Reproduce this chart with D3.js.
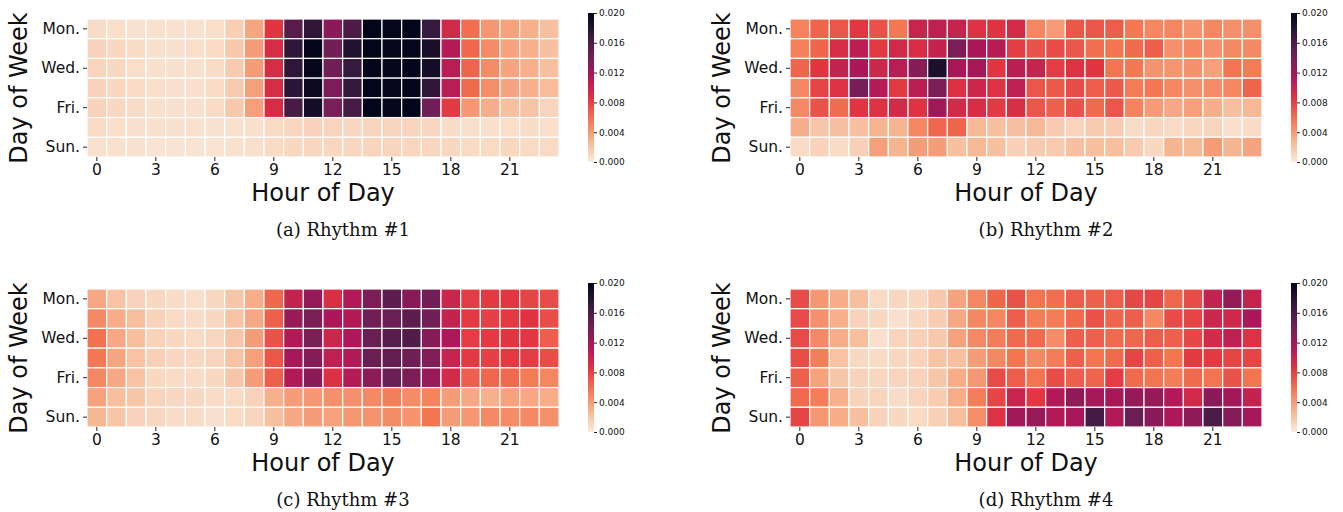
<!DOCTYPE html>
<meta charset="utf-8">
<style>
    body { margin: 0; background: #fff; }
    svg { display: block; }
    .tick text { font-family: "DejaVu Sans", sans-serif; fill: #111; }
    .axis path.domain { display: none; }
    .axis line { stroke: #222; }
</style>
<body>
<script src="https://d3js.org/d3.v7.min.js"></script>
<script>
    const days = ["Mon.", "Tue.", "Wed.", "Thu.", "Fri.", "Sat.", "Sun."];
    const dayTicks = ["Mon.", "Wed.", "Fri.", "Sun."];
    const hours = d3.range(24);
    const hourTicks = [0, 3, 6, 9, 12, 15, 18, 21];
    const cbTicks = [0, 0.004, 0.008, 0.012, 0.016, 0.020];
    const captions = ["(a) Rhythm #1", "(b) Rhythm #2", "(c) Rhythm #3", "(d) Rhythm #4"];

    // rows Mon..Sun, columns hour 0..23
    const rhythm1 = [
        [.0008,.0007,.0005,.0005,.0005,.0005,.0007,.0015,.0035,.0085,.0155,.0175,.0130,.0160,.0200,.0198,.0200,.0170,.0095,.0060,.0042,.0037,.0030,.0022],
        [.0013,.0011,.0008,.0006,.0006,.0007,.0009,.0018,.0040,.0092,.0175,.0199,.0143,.0183,.0200,.0198,.0198,.0187,.0110,.0063,.0047,.0036,.0030,.0022],
        [.0012,.0010,.0007,.0006,.0006,.0006,.0008,.0017,.0040,.0092,.0175,.0198,.0143,.0171,.0199,.0198,.0199,.0190,.0108,.0065,.0047,.0036,.0030,.0022],
        [.0013,.0011,.0009,.0007,.0006,.0006,.0009,.0017,.0038,.0092,.0177,.0195,.0137,.0172,.0200,.0198,.0199,.0175,.0108,.0062,.0046,.0036,.0030,.0024],
        [.0013,.0010,.0008,.0006,.0006,.0006,.0009,.0018,.0038,.0092,.0162,.0190,.0138,.0162,.0200,.0198,.0200,.0143,.0083,.0042,.0031,.0022,.0020,.0012],
        [.0009,.0007,.0006,.0006,.0006,.0005,.0005,.0005,.0006,.0009,.0011,.0013,.0012,.0011,.0012,.0012,.0012,.0011,.0008,.0007,.0006,.0007,.0008,.0007],
        [.0005,.0005,.0005,.0004,.0004,.0004,.0004,.0005,.0006,.0009,.0010,.0011,.0011,.0011,.0012,.0012,.0011,.0011,.0010,.0009,.0009,.0010,.0009,.0009]
    ];
    const rhythm2 = [
        [.0051,.0065,.0071,.0084,.0073,.0056,.0100,.0105,.0101,.0088,.0086,.0093,.0050,.0040,.0070,.0071,.0068,.0056,.0050,.0050,.0044,.0049,.0045,.0045],
        [.0052,.0064,.0092,.0107,.0083,.0095,.0091,.0102,.0137,.0116,.0109,.0082,.0072,.0075,.0071,.0060,.0057,.0062,.0067,.0045,.0049,.0045,.0048,.0048],
        [.0064,.0085,.0102,.0115,.0097,.0108,.0132,.0185,.0116,.0117,.0085,.0107,.0101,.0082,.0088,.0085,.0058,.0056,.0044,.0043,.0045,.0038,.0058,.0055],
        [.0049,.0079,.0088,.0140,.0110,.0083,.0107,.0138,.0089,.0097,.0088,.0105,.0071,.0069,.0075,.0067,.0069,.0055,.0056,.0049,.0045,.0047,.0049,.0065],
        [.0048,.0072,.0061,.0085,.0088,.0094,.0087,.0122,.0094,.0091,.0083,.0090,.0071,.0066,.0072,.0062,.0071,.0051,.0040,.0034,.0038,.0031,.0023,.0026],
        [.0031,.0019,.0022,.0022,.0028,.0028,.0049,.0063,.0064,.0026,.0022,.0022,.0026,.0017,.0012,.0017,.0016,.0008,.0011,.0009,.0011,.0012,.0006,.0008],
        [.0009,.0013,.0008,.0014,.0038,.0028,.0039,.0039,.0022,.0026,.0022,.0014,.0017,.0017,.0022,.0023,.0023,.0017,.0010,.0028,.0026,.0040,.0028,.0036]
    ];
    const rhythm3 = [
        [.0034,.0021,.0013,.0010,.0008,.0007,.0010,.0019,.0032,.0063,.0102,.0126,.0090,.0112,.0137,.0152,.0133,.0142,.0099,.0082,.0083,.0084,.0078,.0075],
        [.0048,.0032,.0023,.0013,.0009,.0008,.0010,.0021,.0034,.0066,.0124,.0138,.0115,.0112,.0143,.0146,.0153,.0143,.0102,.0083,.0080,.0083,.0086,.0074],
        [.0059,.0034,.0023,.0013,.0010,.0009,.0011,.0019,.0039,.0072,.0112,.0138,.0098,.0114,.0146,.0155,.0158,.0133,.0114,.0082,.0083,.0085,.0084,.0067],
        [.0056,.0035,.0021,.0014,.0011,.0010,.0012,.0021,.0038,.0071,.0118,.0133,.0105,.0112,.0146,.0150,.0144,.0135,.0101,.0083,.0080,.0083,.0082,.0074],
        [.0049,.0034,.0021,.0010,.0009,.0008,.0010,.0019,.0039,.0066,.0112,.0130,.0089,.0110,.0129,.0145,.0137,.0124,.0094,.0067,.0063,.0062,.0055,.0050],
        [.0037,.0023,.0019,.0012,.0011,.0010,.0008,.0009,.0013,.0030,.0039,.0042,.0045,.0045,.0048,.0053,.0047,.0051,.0039,.0034,.0030,.0037,.0034,.0032],
        [.0027,.0019,.0013,.0011,.0008,.0008,.0006,.0009,.0012,.0022,.0034,.0039,.0037,.0042,.0044,.0047,.0044,.0057,.0039,.0042,.0048,.0047,.0048,.0045]
    ];
    const rhythm4 = [
        [.0075,.0042,.0032,.0023,.0009,.0011,.0010,.0018,.0036,.0049,.0064,.0072,.0058,.0060,.0068,.0066,.0068,.0077,.0078,.0063,.0075,.0102,.0125,.0101],
        [.0076,.0045,.0030,.0013,.0011,.0006,.0010,.0016,.0034,.0049,.0050,.0068,.0054,.0055,.0062,.0073,.0065,.0067,.0049,.0075,.0078,.0098,.0096,.0115],
        [.0076,.0048,.0032,.0023,.0006,.0012,.0014,.0018,.0037,.0048,.0054,.0062,.0062,.0047,.0067,.0066,.0062,.0063,.0068,.0066,.0077,.0094,.0105,.0088],
        [.0074,.0053,.0021,.0010,.0009,.0011,.0013,.0021,.0022,.0039,.0049,.0057,.0048,.0054,.0066,.0057,.0062,.0078,.0066,.0057,.0083,.0083,.0078,.0078],
        [.0066,.0037,.0019,.0013,.0011,.0012,.0013,.0019,.0032,.0042,.0076,.0068,.0058,.0075,.0067,.0065,.0082,.0062,.0058,.0054,.0062,.0058,.0072,.0058],
        [.0062,.0053,.0030,.0013,.0012,.0008,.0012,.0016,.0032,.0053,.0078,.0100,.0084,.0112,.0129,.0118,.0116,.0126,.0126,.0112,.0095,.0130,.0120,.0102],
        [.0078,.0042,.0032,.0022,.0013,.0010,.0009,.0014,.0023,.0046,.0088,.0120,.0124,.0112,.0116,.0164,.0112,.0146,.0131,.0113,.0129,.0160,.0133,.0118]
    ];
    const rhythms = [rhythm1, rhythm2, rhythm3, rhythm4];

    // rocket colormap, reversed: low values pale, high values dark
    const rocketStops = ["#03051a", "#35193e", "#701f57", "#ad1759", "#e13342", "#f37651", "#f6b48f", "#faebdd"];
    const vmax = 0.02;
    const color = d3.scaleLinear()
        .domain(rocketStops.map((_, i) => vmax * (1 - i / (rocketStops.length - 1))))
        .range(rocketStops)
        .clamp(true);

    const W = 1343, H = 512;
    const gridW = 472, gridH = 138;
    // top-left corner of each heatmap
    const origins = [[87, 19], [790, 19], [87, 289], [790, 289]];

    const svg = d3.select("body").append("svg")
        .attr("width", W)
        .attr("height", H);

    const defs = svg.append("defs");
    const grad = defs.append("linearGradient")
        .attr("id", "cbGrad")
        .attr("x1", 0).attr("y1", 1).attr("x2", 0).attr("y2", 0);
    d3.range(0, 1.0001, 0.05).forEach(t => {
        grad.append("stop")
            .attr("offset", `${t * 100}%`)
            .attr("stop-color", color(t * vmax));
    });

    const x = d3.scaleBand().domain(hours).range([0, gridW]);
    const y = d3.scaleBand().domain(days).range([0, gridH]);

    rhythms.forEach((data, p) => {
        const [ox, oy] = origins[p];
        const g = svg.append("g").attr("transform", `translate(${ox},${oy})`);

        const cells = [];
        data.forEach((row, r) => row.forEach((v, h) => cells.push({day: days[r], hour: h, v})));

        g.selectAll("rect.cell")
            .data(cells)
            .enter().append("rect")
            .attr("class", "cell")
            .attr("x", d => x(d.hour))
            .attr("y", d => y(d.day))
            .attr("width", x.bandwidth())
            .attr("height", y.bandwidth())
            .attr("fill", d => color(d.v))
            .attr("stroke", "#fff")
            .attr("stroke-width", 1.2);

        g.append("g")
            .attr("class", "axis")
            .call(d3.axisLeft(y).tickValues(dayTicks).tickSize(4).tickPadding(3))
            .selectAll("text").style("font-size", "15.5px");

        g.append("g")
            .attr("class", "axis")
            .attr("transform", `translate(0,${gridH})`)
            .call(d3.axisBottom(x).tickValues(hourTicks).tickSize(4).tickPadding(3))
            .selectAll("text").style("font-size", "15.5px");

        g.append("text")
            .attr("x", gridW / 2)
            .attr("y", gridH + 44)
            .attr("text-anchor", "middle")
            .style("font-family", "DejaVu Sans, sans-serif")
            .style("font-size", "24px")
            .attr("fill", "#111")
            .text("Hour of Day");

        g.append("text")
            .attr("transform", `translate(${-60},${gridH / 2}) rotate(-90)`)
            .attr("text-anchor", "middle")
            .style("font-family", "DejaVu Sans, sans-serif")
            .style("font-size", "24px")
            .attr("fill", "#111")
            .text("Day of Week");

        g.append("text")
            .attr("x", gridW / 2 + 20)
            .attr("y", gridH + 79)
            .attr("text-anchor", "middle")
            .style("font-family", "'DejaVu Serif', serif")
            .style("font-size", "18px")
            .attr("fill", "#111")
            .text(captions[p]);

        // colorbar
        const cbTop = -6, cbH = gridH + 11;
        const cb = g.append("g").attr("transform", `translate(${gridW + 29},${cbTop})`);
        cb.append("rect")
            .attr("width", 6)
            .attr("height", cbH)
            .attr("fill", "url(#cbGrad)");
        const cy = d3.scaleLinear().domain([0, vmax]).range([cbH, 0]);
        cb.append("g")
            .attr("class", "axis")
            .attr("transform", "translate(6,0)")
            .call(d3.axisRight(cy).tickValues(cbTicks).tickFormat(d3.format(".3f")).tickSize(3).tickPadding(2))
            .selectAll("text").style("font-size", "9px");
    });
</script>
</body>
